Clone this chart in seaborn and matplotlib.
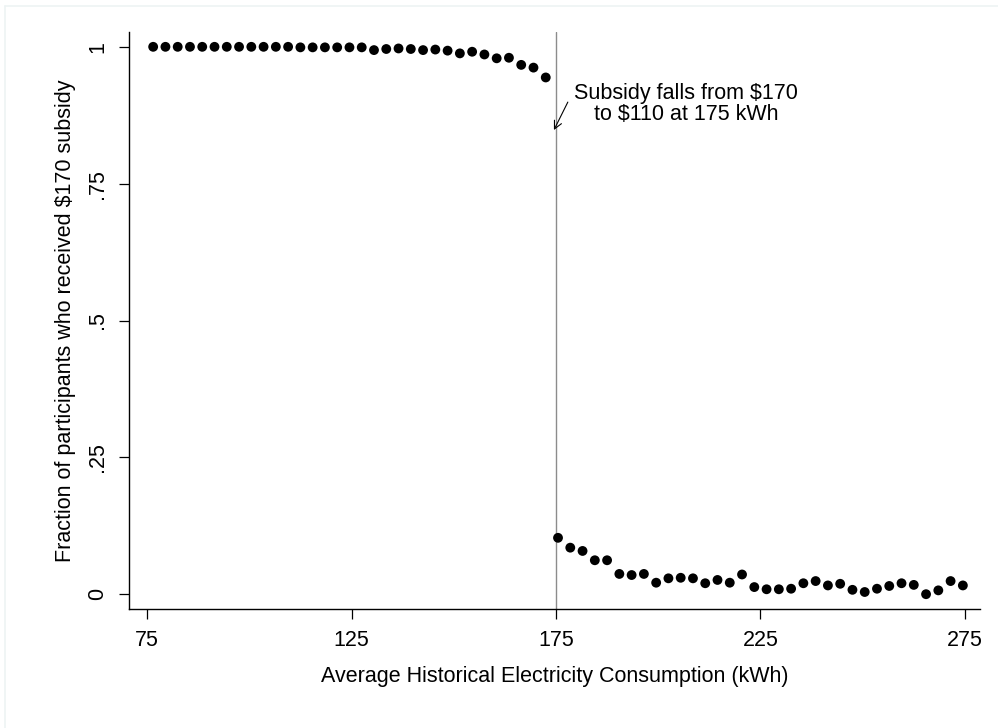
import numpy as np
import pandas as pd
import matplotlib
matplotlib.use("Agg")
import matplotlib.pyplot as plt
import seaborn as sns
from matplotlib.lines import Line2D

# ---- data ----
consumption = [76.5 + 3 * i for i in range(67)]  # 3 kWh bin centers 76.5 .. 274.5
frac_below = [1.0, 1.0, 1.0, 1.0, 1.0, 1.0, 1.0, 1.0, 1.0, 1.0, 1.0, 1.0,
              0.999, 0.999, 0.999, 0.999, 0.999, 0.999,
              0.994, 0.996, 0.997, 0.996, 0.994, 0.995, 0.993, 0.988, 0.991,
              0.986, 0.979, 0.980, 0.967, 0.962, 0.944]
frac_above = [0.103, 0.085, 0.079, 0.062, 0.062, 0.037, 0.035, 0.037, 0.021,
              0.029, 0.030, 0.029, 0.020, 0.026, 0.021, 0.036, 0.013,
              0.009, 0.009, 0.010, 0.020, 0.024, 0.016, 0.019, 0.008, 0.004,
              0.010, 0.015, 0.020, 0.017, 0.000, 0.007, 0.024, 0.016]
fraction = frac_below + frac_above
x_ticks = [75, 125, 175, 225, 275]
y_ticks = [0, 0.25, 0.5, 0.75, 1]
y_tick_labels = ["0", ".25", ".5", ".75", "1"]
cutoff = 175

df = pd.DataFrame({"kwh": consumption, "frac": fraction})

sns.set_style("white")
plt.rcParams["font.family"] = ["Liberation Sans", "DejaVu Sans"]
plt.rcParams["text.color"] = "black"
plt.rcParams["axes.labelcolor"] = "black"

FS = 15.5

fig = plt.figure(figsize=(9.98, 7.28), dpi=100)
ax = fig.add_axes([0.1293, 0.1635, 0.8527, 0.7925])

ax.axvline(cutoff, color="#8c8c8c", lw=1.0, zorder=1)
sns.scatterplot(data=df, x="kwh", y="frac", ax=ax, color="black",
                s=50, edgecolor="none", zorder=3, legend=False)

ax.set_xlim(70.6, 278.7)
ax.set_ylim(-0.027, 1.027)
ax.set_xticks(x_ticks)
ax.set_xticklabels([str(t) for t in x_ticks])
ax.set_yticks(y_ticks)
ax.set_yticklabels(y_tick_labels, rotation=90, va="center")

for s in ["top", "right"]:
    ax.spines[s].set_visible(False)
for s in ["left", "bottom"]:
    ax.spines[s].set_color("black")
    ax.spines[s].set_linewidth(1.0)

ax.tick_params(axis="both", which="both", direction="out", length=7,
               width=0.9, color="black", labelsize=FS, labelcolor="black")
ax.tick_params(axis="x", pad=8)
ax.tick_params(axis="y", pad=8)
ax.xaxis.set_ticks_position("bottom")
ax.yaxis.set_ticks_position("left")

ax.set_xlabel("Average Historical Electricity Consumption (kWh)", fontsize=FS,
              labelpad=11)
ax.set_ylabel("Fraction of participants who received $170 subsidy",
              fontsize=FS, labelpad=8)

ax.text(206.8, 0.8955, "Subsidy falls from $170\nto $110 at 175 kWh",
        ha="center", va="center", fontsize=FS, multialignment="center",
        linespacing=1.05, color="black")
ax.annotate("", xy=(174.5, 0.848), xytext=(177.9, 0.899),
            arrowprops=dict(arrowstyle="->", color="black", lw=0.8,
                            shrinkA=0, shrinkB=0, mutation_scale=14))

# faint outer frame lines seen in the reference
fig.add_artist(Line2D([5 / 998, 5 / 998], [0, 1 - 6 / 728],
                      transform=fig.transFigure, color="#edf3f4", lw=1.2))
fig.add_artist(Line2D([5 / 998, 1], [1 - 6 / 728, 1 - 6 / 728],
                      transform=fig.transFigure, color="#edf3f4", lw=1.2))

fig.savefig("out.png", dpi=100)
